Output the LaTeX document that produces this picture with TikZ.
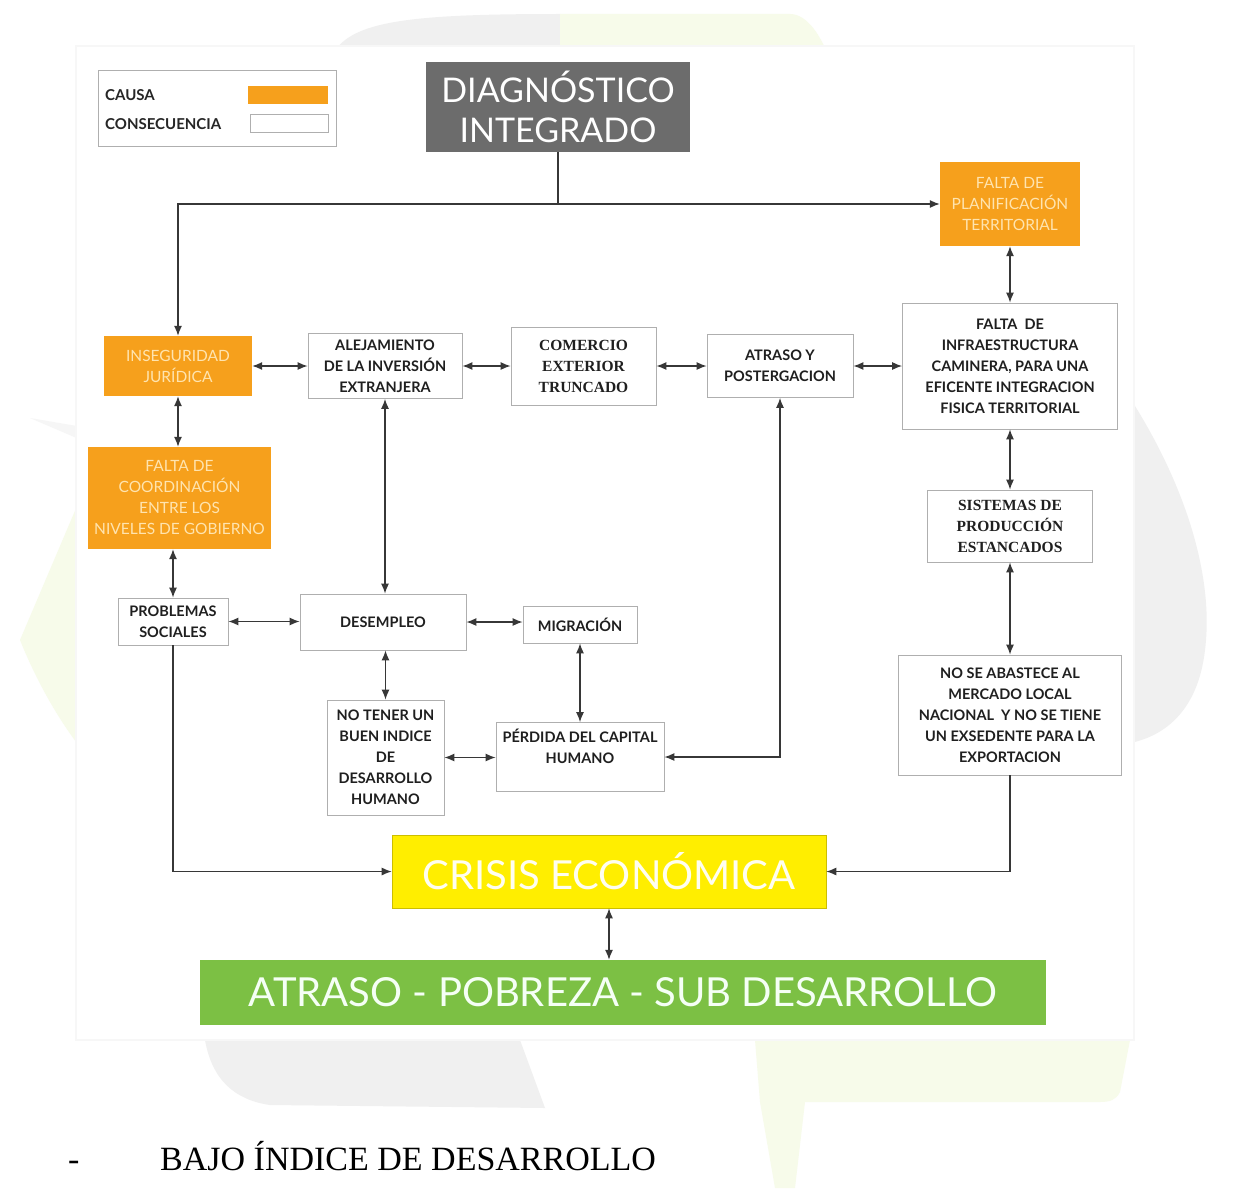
\documentclass[tikz,border=0pt]{standalone}
\usepackage{fontspec}
\setmainfont{Liberation Serif}
\newfontfamily\gothic{Lato}
\newfontfamily\timesb{Liberation Serif}
\usetikzlibrary{arrows.meta}

\definecolor{causeC}{RGB}{246,160,28}
\definecolor{causeText}{RGB}{255,228,175}
\definecolor{titleC}{RGB}{108,108,108}
\definecolor{crisisC}{RGB}{255,238,0}
\definecolor{endC}{RGB}{124,192,68}
\definecolor{wireC}{RGB}{55,55,55}
\definecolor{frameC}{RGB}{175,175,175}
\definecolor{bgGray}{RGB}{240,240,240}
\definecolor{bgGreen}{RGB}{247,251,234}

\tikzset{
  box/.style={inner sep=0pt, align=center, minimum width=#1},
  cause/.style={fill=causeC, draw=none, text=causeText,
    font=\gothic\fontsize{15.5}{21}\selectfont},
  conseq/.style={fill=white, draw=frameC, line width=0.8pt, text=black!88,
    font=\gothic\bfseries\fontsize{14.5}{21}\selectfont},
  conseqserif/.style={conseq, font=\timesb\bfseries\fontsize{15.5}{21}\selectfont},
  banner/.style={draw=none, text=white, inner sep=0pt, align=center},
  both/.style={draw=wireC, line width=1.2pt, {Latex[length=10pt,width=8pt]}-{Latex[length=10pt,width=8pt]}},
  onto/.style={draw=wireC, line width=1.2pt, -{Latex[length=10pt,width=8pt]}},
  wire/.style={draw=wireC, line width=1.2pt},
  legendtext/.style={anchor=west, font=\gothic\bfseries\fontsize{15}{17}\selectfont, text=black!85, inner sep=0pt},
}

\begin{document}
\begin{tikzpicture}[x=1pt,y=-1pt]
\useasboundingbox (0,0) rectangle (1246,1188);
\fill[white] (0,0) rectangle (1246,1188);

% faint recycling emblem behind the chart
\fill[bgGray] (330,60) .. controls (345,22) and (400,14) .. (560,14) -- (560,60) -- cycle;
\fill[bgGreen] (560,14) -- (790,14) .. controls (808,14) and (822,38) .. (830,60) -- (560,60) -- cycle;
\fill[bgGreen] (100,452) -- (20,640) .. controls (40,690) and (70,740) .. (100,770) -- cycle;
\fill[bgGray!60] (30,418) -- (100,430) -- (100,448) -- cycle;
\fill[bgGray] (1118,380) .. controls (1180,470) and (1215,570) .. (1205,650)
  .. controls (1198,710) and (1165,740) .. (1118,745) -- cycle;
\fill[bgGray] (205,1040) -- (520,1040) -- (545,1108) -- (270,1105)
  .. controls (235,1100) and (212,1080) .. (205,1040) -- cycle;
\fill[bgGreen] (755,1040) -- (1130,1040) -- (1120,1092)
  .. controls (1116,1100) and (1110,1102) .. (1100,1102) -- (805,1102)
  -- (795,1188) -- (775,1188) -- (760,1102) -- cycle;

% white panel carrying the chart
\fill[white] (76,46) rectangle (1134,1040);
\draw[black!3, line width=2pt] (76,46) rectangle (1134,1040);

% legend
\node[draw=frameC, line width=0.8pt, fill=white, minimum width=238pt, minimum height=76pt, inner sep=0pt] (legend) at (217,108) {};
\node[legendtext] (lcause) at (105,95) {CAUSA};
\node[legendtext] (lcons) at (105,124) {CONSECUENCIA};
\node[fill=causeC, minimum width=80pt, minimum height=18pt, inner sep=0pt] (scause) at (288,95) {};
\node[draw=frameC, line width=0.8pt, fill=white, minimum width=78pt, minimum height=18pt, inner sep=0pt] (scons) at (289,123) {};

% headline
\node[banner, fill=titleC, minimum width=264pt, minimum height=90pt,
  font=\gothic\fontsize{34}{40}\selectfont] (diag) at (558,107) {DIAGNÓSTICO\\INTEGRADO};

% causes
\node[cause, box=140pt, minimum height=84pt] (plan) at (1010,204) {FALTA DE\\PLANIFICACIÓN\\TERRITORIAL};
\node[cause, box=148pt, minimum height=60pt] (inseg) at (178,366) {INSEGURIDAD\\JURÍDICA};
\node[cause, box=183pt, minimum height=102pt] (coord) at (179.5,498) {FALTA DE\\COORDINACIÓN\\ENTRE LOS\\NIVELES DE GOBIERNO};

% consequences
\node[conseq, box=215pt, minimum height=126pt] (infra) at (1010,366) {FALTA \ DE\\INFRAESTRUCTURA\\CAMINERA, PARA UNA\\EFICENTE INTEGRACION\\FISICA TERRITORIAL};
\node[conseq, box=154pt, minimum height=65pt] (alej) at (385,366) {ALEJAMIENTO\\DE LA INVERSIÓN\\EXTRANJERA};
\node[conseqserif, box=145pt, minimum height=78pt] (comer) at (583.5,366) {COMERCIO\\EXTERIOR\\TRUNCADO};
\node[conseq, box=146pt, minimum height=63pt] (atraso) at (780,366) {ATRASO Y\\POSTERGACION};
\node[conseq, box=110pt, minimum height=47pt] (prob) at (173,621.5) {PROBLEMAS\\SOCIALES};
\node[conseq, box=166pt, minimum height=56pt] (desem) at (383,622) {DESEMPLEO};
\node[conseq, box=114pt, minimum height=37pt] (migr) at (580,624.5) {MIGRACIÓN};
\node[conseq, box=117pt, minimum height=115pt] (notener) at (385.5,757.5) {NO TENER UN\\BUEN INDICE\\DE\\DESARROLLO\\HUMANO};
\node[conseq, box=168pt, minimum height=69pt] (perdida) at (580,757) {PÉRDIDA DEL CAPITAL\\HUMANO\\\mbox{}};
\node[conseqserif, box=165pt, minimum height=72pt] (sist) at (1010,526) {SISTEMAS DE\\PRODUCCIÓN\\ESTANCADOS};
\node[conseq, box=223pt, minimum height=120pt] (abast) at (1010,715) {NO SE ABASTECE AL\\MERCADO LOCAL\\NACIONAL \ Y NO SE TIENE\\UN EXSEDENTE PARA LA\\EXPORTACION};

% outcomes
\node[banner, fill=crisisC, draw=crisisC!80!black, line width=0.6pt, minimum width=434pt, minimum height=73pt,
  font=\gothic\fontsize{40}{44}\selectfont, text=white!94!yellow] (crisis) at (609,871.5) {CRISIS ECONÓMICA};
\node[banner, fill=endC, minimum width=846pt, minimum height=65pt,
  font=\gothic\fontsize{40}{44}\selectfont, text=white!96!green] (apsd) at (623,992.5) {ATRASO - POBREZA - SUB DESARROLLO};

% links from the headline
\draw[wire] (diag.south) -- (diag.south |- plan.west);
\draw[both] (inseg.north) |- (plan.west);

% causal links
\draw[both] (plan) -- (infra);
\draw[both] (inseg) -- (alej);
\draw[both] (alej) -- (comer);
\draw[both] (comer) -- (atraso);
\draw[both] (atraso) -- (infra);
\draw[both] (inseg.south) -- (inseg.south |- coord.north);
\draw[both] (coord.south -| prob.north) -- (prob.north);
\draw[both] (alej.south) -- (alej.south |- desem.north);
\draw[both] (prob.east) -- (prob.east -| desem.west);
\draw[both] (desem.east) -- (desem.east -| migr.west);
\draw[both] (desem.south -| notener.north) -- (notener.north);
\draw[both] (migr) -- (perdida);
\draw[both] (notener.east) -- (notener.east -| perdida.west);
\draw[both] (perdida.east) -| (atraso.south);
\draw[both] (infra) -- (sist);
\draw[both] (sist) -- (abast);
\draw[onto] (prob.south) |- (crisis.west);
\draw[onto] (abast.south) |- (crisis.east);
\draw[both] (crisis.south) -- (crisis.south |- apsd.north);

% caption line under the chart
\node[anchor=base west, font=\fontsize{34}{38}\selectfont, inner sep=0pt] (dash) at (68,1170) {-};
\node[anchor=base west, font=\fontsize{34}{38}\selectfont, inner sep=0pt] (caption) at (160,1170) {BAJO ÍNDICE DE DESARROLLO};
\end{tikzpicture}
\end{document}
